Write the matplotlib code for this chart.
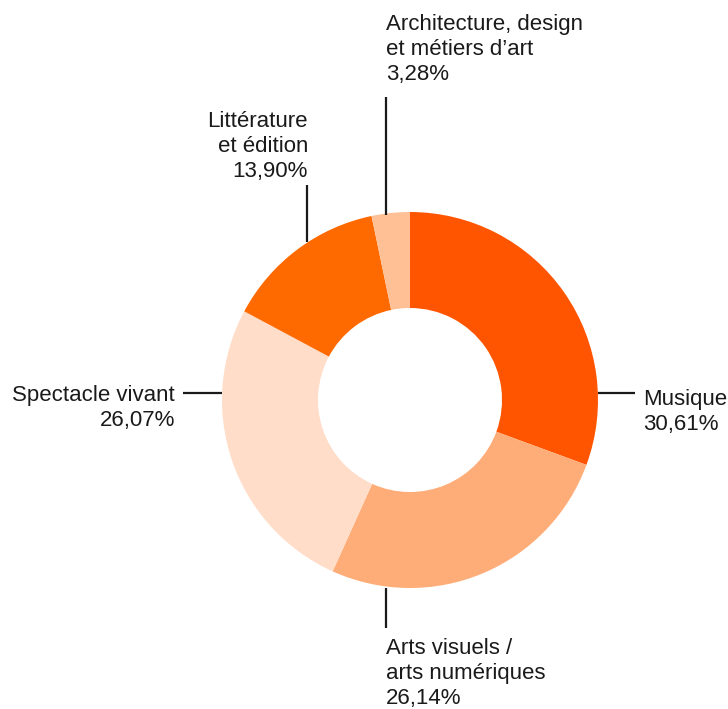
import matplotlib
matplotlib.use("Agg")
import matplotlib.pyplot as plt

plt.rcParams['font.family'] = ['Liberation Sans', 'DejaVu Sans']

categories = ["Musique", "Arts visuels /\narts numériques", "Spectacle vivant",
              "Littérature\net édition", "Architecture, design\net métiers d’art"]
shares = [30.61, 26.14, 26.07, 13.90, 3.28]
colors = ["#FF5500", "#FFAD78", "#FFDDC8", "#FF6A00", "#FFC096"]

W, H = 728, 709
fig = plt.figure(figsize=(W / 100, H / 100), dpi=100)
ax = fig.add_axes([0, 0, 1, 1])

cx, cy = 410, H - 400
r_out, r_in = 188, 92
ax.pie(shares, colors=colors, startangle=90, counterclock=False,
       center=(cx, cy), radius=r_out, frame=True,
       wedgeprops=dict(width=r_out - r_in, linewidth=0))
ax.set_xlim(0, W)
ax.set_ylim(0, H)
ax.set_aspect('equal')
ax.axis('off')


def fmt(v):
    return f"{v:.2f}".replace(".", ",") + "%"


def y(p):
    return H - p


# leader lines (pixel layout)
lines = [
    ((598, 635), (y(393), y(393))),
    ((386, 386), (y(588), y(628))),
    ((183, 222), (y(393), y(393))),
    ((307, 307), (y(185), y(242))),
    ((386, 386), (y(97), y(215))),
]
for xs, ys in lines:
    ax.plot(xs, ys, color="#1a1a1a", lw=1.6, solid_capstyle='butt')

tkw = dict(fontsize=16, color="#1a1a1a", linespacing=1.24)
labels = [
    (643, y(389), 'left', 'top'),
    (386, y(638), 'left', 'top'),
    (175, y(385), 'right', 'top'),
    (308, y(111), 'right', 'top'),
    (386, y(14), 'left', 'top'),
]
for (name, v), (tx, ty, ha, va) in zip(zip(categories, shares), labels):
    ax.text(tx, ty, f"{name}\n{fmt(v)}", ha=ha, va=va, multialignment=ha, **tkw)

fig.savefig("out.png", dpi=100)
